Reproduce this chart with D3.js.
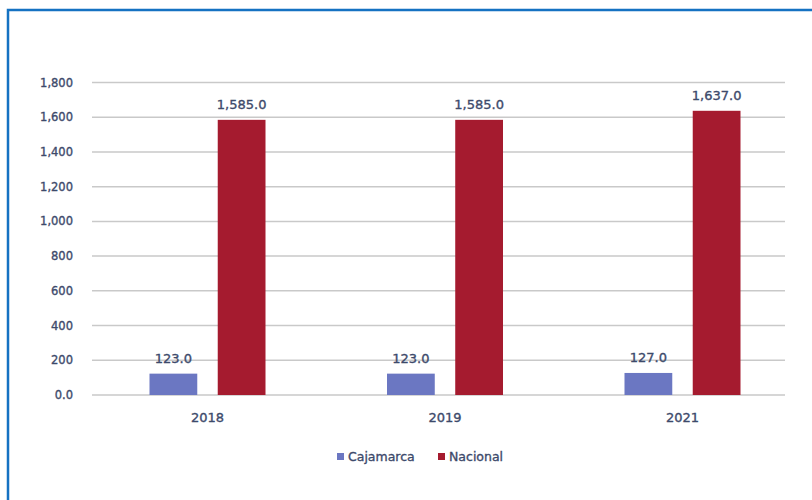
<!DOCTYPE html>
<html><head><meta charset="utf-8">
<script src="https://cdn.jsdelivr.net/npm/d3@7"></script>
<style>body{margin:0;background:#fff}svg{display:block}text{stroke:#3d4a6b;stroke-width:0.35px}</style>
</head><body>
<script>
const categories = ["2018", "2019", "2021"];
const seriesNames = ["Cajamarca", "Nacional"];
const cajamarca = [123.0, 123.0, 127.0];
const nacional = [1585.0, 1585.0, 1637.0];
const yTicks = [0, 200, 400, 600, 800, 1000, 1200, 1400, 1600, 1800];
const colors = ["#6b77c2", "#a51b2f"];

const W = 812, H = 500;
const textColor = "#3d4a6b";
const font = "'DejaVu Sans', sans-serif";
const svg = d3.select("body").append("svg").attr("width", W).attr("height", H);

// frame
svg.append("rect").attr("x", 8).attr("y", 10).attr("width", 820).attr("height", 520)
  .attr("fill", "none").attr("stroke", "#1572c2").attr("stroke-width", 2.5);

const y = d3.scaleLinear().domain([0, 1800]).range([395, 82.5]);
const x = d3.scaleBand().domain(categories).range([88.75, 801.25]);
const xi = d3.scaleBand().domain(seriesNames).range([0, 116]).paddingInner(0.3);
const gridX0 = 92, gridX1 = 785;

// grid
svg.append("g").selectAll("line").data(yTicks).join("line")
  .attr("x1", gridX0).attr("x2", gridX1)
  .attr("y1", d => y(d)).attr("y2", d => y(d))
  .attr("stroke", "#c9c9c9").attr("stroke-width", 1.5);

// y labels
svg.append("g").selectAll("text").data(yTicks).join("text")
  .attr("x", 73).attr("y", d => y(d)).attr("dy", "0.35em")
  .attr("text-anchor", "end").attr("font-family", font).attr("font-size", 11.5)
  .attr("fill", textColor)
  .text(d => d === 0 ? "0.0" : d3.format(",")(d));

const data = categories.map((c, i) => ({c, vals: [cajamarca[i], nacional[i]]}));
const groups = svg.append("g").selectAll("g").data(data).join("g")
  .attr("transform", d => `translate(${x(d.c) + x.bandwidth() / 2 - 58},0)`);

groups.selectAll("rect").data(d => d.vals.map((v, k) => ({v, s: seriesNames[k], k})))
  .join("rect")
  .attr("x", d => xi(d.s)).attr("width", xi.bandwidth())
  .attr("y", d => y(d.v)).attr("height", d => y(0) - y(d.v))
  .attr("fill", d => colors[d.k]);

groups.selectAll("text.val").data(d => d.vals.map((v, k) => ({v, s: seriesNames[k], k})))
  .join("text").attr("class", "val")
  .attr("x", d => xi(d.s) + xi.bandwidth() / 2).attr("y", d => y(d.v) - 11)
  .attr("text-anchor", "middle").attr("font-family", font).attr("font-size", 13)
  .attr("fill", textColor)
  .text(d => d3.format(",.1f")(d.v));

// x labels
svg.append("g").selectAll("text").data(categories).join("text")
  .attr("x", d => x(d) + x.bandwidth() / 2).attr("y", 422)
  .attr("text-anchor", "middle").attr("font-family", font).attr("font-size", 13)
  .attr("fill", textColor).text(d => d);

// legend
const legX = [337, 438];
const leg = svg.append("g").selectAll("g").data(seriesNames).join("g")
  .attr("transform", (d, i) => `translate(${legX[i]},453)`);
leg.append("rect").attr("width", 7).attr("height", 7).attr("fill", (d, i) => colors[i]);
leg.append("text").attr("x", 11).attr("y", 3.5).attr("dy", "0.35em")
  .attr("font-family", font).attr("font-size", 12.5).attr("fill", textColor).text(d => d);
</script>
</body></html>
